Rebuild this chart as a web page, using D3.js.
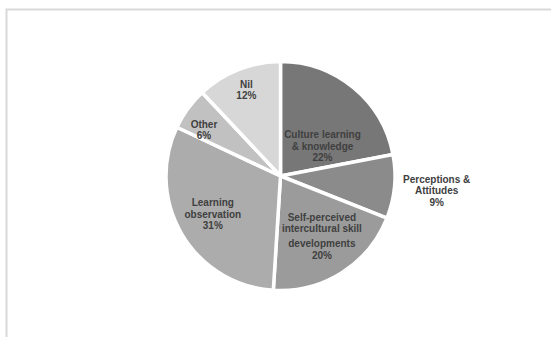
<!DOCTYPE html>
<html>
<head>
<meta charset="utf-8">
<script src="https://cdn.jsdelivr.net/npm/d3@7"></script>
<style>
  body { margin: 0; background: #fff; }
  svg { display: block; }
  text { font-family: "Liberation Sans", Arial, sans-serif; font-weight: bold; }
</style>
</head>
<body>
<script>
// chart data
var categories = ["Culture learning & knowledge", "Perceptions & Attitudes",
                  "Self-perceived intercultural skill developments",
                  "Learning observation", "Other", "Nil"];
var label_lines = [["Culture learning", "& knowledge"],
                   ["Perceptions &", "Attitudes"],
                   ["Self-perceived", "intercultural skill", "developments"],
                   ["Learning", "observation"],
                   ["Other"],
                   ["Nil"]];
var values = [22, 9, 20, 31, 6, 12];

// look
var colours = ["#777777", "#8b8b8b", "#9b9b9b", "#acacac", "#c1c1c1", "#d7d7d7"];
var label_r = [0.45, 1.37, 0.64, 0.68, 0.78, 0.81];   // fraction of radius
var label_turn = [15, 0, -2, 1, -5, 0];                 // degrees nudge
var line_h = 11.5;

var width = 551, height = 337;
var cx = 280.5, cy = 176, radius = 114.5;

var svg = d3.select("body").append("svg")
            .attr("width", width)
            .attr("height", height);

// frame of the chart area
svg.append("rect")
   .attr("x", 6.5).attr("y", 9.5)
   .attr("width", 620).attr("height", 400)
   .attr("fill", "#fff")
   .attr("stroke", "#d9d9d9")
   .attr("stroke-width", 2);

var pie = d3.pie().sort(null).value(function (d) { return d; });
var arcs = pie(values);

var arc = d3.arc().innerRadius(0).outerRadius(radius);

var g = svg.append("g").attr("transform", "translate(" + cx + "," + cy + ")");

g.selectAll("path.slice")
 .data(arcs)
 .enter().append("path")
 .attr("class", "slice")
 .attr("d", arc)
 .attr("fill", function (d, i) { return colours[i]; })
 .attr("stroke", "#fff")
 .attr("stroke-width", 3.5)
 .attr("stroke-linejoin", "round");

// labels
arcs.forEach(function (d, i) {
  var mid = (d.startAngle + d.endAngle) / 2 + label_turn[i] * Math.PI / 180;
  var r = radius * label_r[i];
  var x = Math.sin(mid) * r;
  var y = -Math.cos(mid) * r;
  var lines = label_lines[i].concat([values[i] + "%"]);
  var extra = (i === 2) ? 3.5 : 0;
  var total = (lines.length - 1) * line_h + extra;
  var t = g.append("text")
           .attr("text-anchor", "middle")
           .attr("font-size", "10px")
           .attr("fill", "#404040");
  lines.forEach(function (s, j) {
    var yy = y - total / 2 + j * line_h + (j >= 2 && i === 2 ? extra : 0) + 3.5;
    t.append("tspan")
     .attr("x", x)
     .attr("y", yy)
     .text(s);
  });
});
</script>
</body>
</html>
